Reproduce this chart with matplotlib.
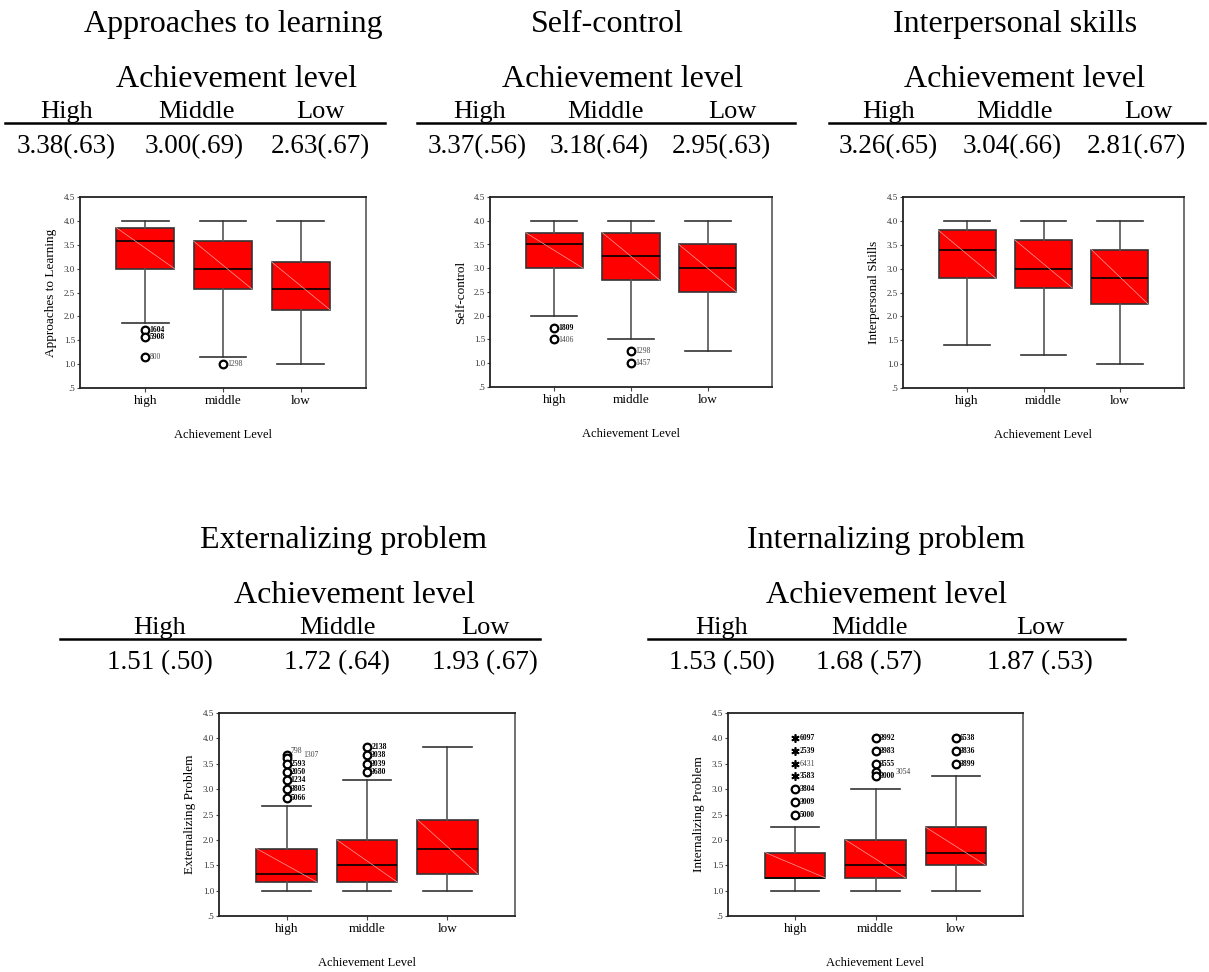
"""
Achievement level tables + SPSS style boxplots for five outcome scales
"""
import numpy as np
import matplotlib.pyplot as plt
from matplotlib.lines import Line2D

plt.rcParams['font.family'] = ['Liberation Serif', 'DejaVu Serif']

#   ///////   data   ///////
levels      = ['high', 'middle', 'low']
heads       = ['High', 'Middle', 'Low']
titles      = ['Approaches to learning', 'Self-control', 'Interpersonal skills',
               'Externalizing problem', 'Internalizing problem']
ylabels     = ['Approaches to Learning', 'Self-control', 'Interpersonal Skills',
               'Externalizing Problem', 'Internalizing Problem']
mean_sd     = [['3.38(.63)', '3.00(.69)', '2.63(.67)'],
               ['3.37(.56)', '3.18(.64)', '2.95(.63)'],
               ['3.26(.65)', '3.04(.66)', '2.81(.67)'],
               ['1.51 (.50)', '1.72 (.64)', '1.93 (.67)'],
               ['1.53 (.50)', '1.68 (.57)', '1.87 (.53)']]

# (whisker low, q1, median, q3, whisker high) for high / middle / low
box_approaches  = [(1.86, 3.00, 3.57, 3.86, 4.00), (1.14, 2.57, 3.00, 3.57, 4.00), (1.00, 2.14, 2.57, 3.14, 4.00)]
box_selfctrl    = [(2.00, 3.00, 3.50, 3.75, 4.00), (1.50, 2.75, 3.25, 3.75, 4.00), (1.25, 2.50, 3.00, 3.50, 4.00)]
box_interpers   = [(1.40, 2.80, 3.40, 3.80, 4.00), (1.20, 2.60, 3.00, 3.60, 4.00), (1.00, 2.25, 2.80, 3.40, 4.00)]
box_external    = [(1.00, 1.17, 1.33, 1.83, 2.67), (1.00, 1.17, 1.50, 2.00, 3.17), (1.00, 1.33, 1.83, 2.40, 3.83)]
box_internal    = [(1.00, 1.25, 1.25, 1.75, 2.25), (1.00, 1.25, 1.50, 2.00, 3.00), (1.00, 1.50, 1.75, 2.25, 3.25)]

# outliers (value, case label), circles
out_approaches  = [[(1.71, '1604'), (1.57, '5908'), (1.14, '800')], [(1.00, '1298')], []]
out_selfctrl    = [[(1.75, '1809'), (1.50, '1406')], [(1.25, '1298'), (1.00, '1457')], []]
out_interpers   = [[], [], []]
out_external    = [[(3.67, '798'), (3.62, '1307'), (3.50, '2593'), (3.33, '2050'), (3.17, '1234'),
                    (3.00, '3805'), (2.83, '5066')],
                   [(3.83, '2138'), (3.67, '3038'), (3.50, '3039'), (3.33, '3680')], []]
out_internal    = [[(3.00, '3804'), (2.75, '3009'), (2.50, '5000')],
                   [(4.00, '3992'), (3.75, '3983'), (3.50, '3555'), (3.33, '3054'), (3.25, '3000')],
                   [(4.00, '6538'), (3.75, '3836'), (3.50, '3899')]]
# extremes, stars
ext_internal    = [[(4.00, '6097'), (3.75, '2539'), (3.50, '6431'), (3.25, '3583')], [], []]

boxes       = [box_approaches, box_selfctrl, box_interpers, box_external, box_internal]
outliers    = [out_approaches, out_selfctrl, out_interpers, out_external, out_internal]
extremes    = [[[], [], []], [[], [], []], [[], [], []], [[], [], []], ext_internal]
light_lbl   = ['800', '1298', '1406', '1457', '3054', '6431', '798', '1307']
# label offsets (points) for crowded case labels
nudge       = {'798': (3, 3), '1307': (12, 2), '3054': (14.5, 0.5)}
#   ///////     ///////

#   ///////   layout (pixels)   ///////
W, H = 1209, 972
fig = plt.figure(figsize=(W/100, H/100), dpi=100)

def ftxt(x, y, s, size, ha='center'):
    fig.text(x/W, 1 - y/H, s, fontsize=size, ha=ha, va='baseline')

def fline(x0, x1, y):
    fig.add_artist(Line2D([x0/W, x1/W], [1 - y/H]*2, color='black', lw=1.8,
                          transform=fig.transFigure))

# table: title x, AL x, line x0, x1, header xs, value xs, row offset
tables = [
    (233, 236, 5, 385, [67, 196, 320], [66, 194, 320], 0),
    (607, 622, 417, 795, [480, 605, 732], [477, 599, 721], 0),
    (1015, 1025, 829, 1205, [889, 1014, 1148], [888, 1012, 1136], 0),
    (343, 355, 60, 540, [160, 337, 485], [160, 337, 485], 516),
    (886, 886, 648, 1125, [722, 869, 1040], [722, 869, 1040], 516),
]
# axes rects: left, top, right, bottom
rects = [(80, 197, 366, 388), (490, 197, 772, 387), (903, 197, 1184, 388),
         (219, 713, 515, 916), (728, 713, 1023, 916)]

for i in range(5):
    tx, ax_, x0, x1, hx, vx, dy = tables[i]
    ftxt(tx, 32 + dy, titles[i], 23)
    ftxt(ax_, 87 + dy, 'Achievement level', 23)
    for h, x in zip(heads, hx):
        ftxt(x, 118 + dy, h, 19)
    fline(x0, x1, 123 + dy)
    for v, x in zip(mean_sd[i], vx):
        ftxt(x, 153 + dy, v, 19.5)

#   ///////   boxplots   ///////
pos = [1, 2, 3]
bw = 0.75
for i in range(5):
    l, t, r, b = rects[i]
    ax = fig.add_axes([l/W, 1 - b/H, (r - l)/W, (b - t)/H])
    stats = []
    for k, (lo, q1, med, q3, hi) in enumerate(boxes[i]):
        stats.append(dict(whislo=lo, q1=q1, med=med, q3=q3, whishi=hi,
                          fliers=[v for v, _ in outliers[i][k]]))
    ax.bxp(stats, positions=pos, widths=bw, capwidths=0.6, patch_artist=True,
           boxprops=dict(facecolor='#ff0000', edgecolor='#333333', lw=1.2),
           medianprops=dict(color='black', lw=1.2),
           whiskerprops=dict(color='#555555', lw=1.2),
           capprops=dict(color='#333333', lw=1.2),
           flierprops=dict(marker='o', markersize=5.5, markerfacecolor='white',
                           markeredgecolor='black', markeredgewidth=1.6))
    for p, (lo, q1, med, q3, hi) in zip(pos, boxes[i]):
        ax.plot([p - bw/2, p + bw/2], [q3, q1], color='#ffa0a0', lw=0.5, zorder=2.5)
    for k in range(3):
        for v, lbl in extremes[i][k]:
            ax.plot(pos[k], v, marker=(6, 2, 0), markersize=6, markeredgewidth=1.2,
                    color='black', zorder=4)
        for v, lbl in outliers[i][k] + extremes[i][k]:
            light = lbl in light_lbl
            ax.annotate(lbl, (pos[k], v), xytext=nudge.get(lbl, (3, 0)),
                        textcoords='offset points',
                        va='center', ha='left', fontsize=5.5,
                        fontweight='normal' if light else 'bold',
                        color='#444444' if light else 'black')

    ax.set_xlim(0.16, 3.84)
    ax.set_ylim(0.5, 4.5)
    ax.set_yticks(np.arange(0.5, 4.51, 0.5))
    ax.set_yticklabels(['.5', '1.0', '1.5', '2.0', '2.5', '3.0', '3.5', '4.0', '4.5'],
                       fontsize=6.5, color='#333333')
    ax.set_xticks(pos)
    ax.set_xticklabels(levels, fontsize=9.5)
    ax.tick_params(axis='y', length=2, pad=1.5, color='#444444')
    ax.tick_params(axis='x', length=3, pad=2, color='#444444')
    ax.set_ylabel(ylabels[i], fontsize=9.5, labelpad=5)
    ax.set_xlabel('Achievement Level', fontsize=9, labelpad=16)
    for s in ['left', 'bottom', 'top']:
        ax.spines[s].set_color('#222222')
        ax.spines[s].set_linewidth(1.3)
    ax.spines['right'].set_color('#666666')
    ax.spines['right'].set_linewidth(1.3)

fig.savefig('out.png', dpi=100)
